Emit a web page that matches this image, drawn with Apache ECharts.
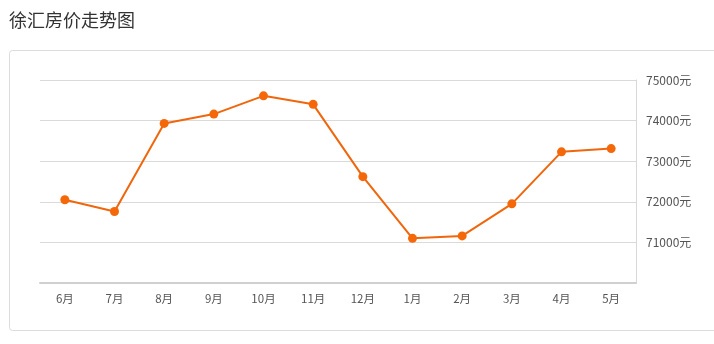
<!DOCTYPE html>
<html>
<head>
<meta charset="utf-8">
<script src="https://cdn.jsdelivr.net/npm/echarts@6/dist/echarts.min.js"></script>
<style>
html,body{margin:0;padding:0;background:#fff;}
#c{width:714px;height:344px;}
</style>
</head>
<body>
<div id="c"></div>
<script>
const categories = ['6月','7月','8月','9月','10月','11月','12月','1月','2月','3月','4月','5月'];
const prices = [72050, 71760, 73930, 74160, 74610, 74400, 72620, 71100, 71160, 71950, 73230, 73310];
const yTicks = [70000, 71000, 72000, 73000, 74000, 75000];

const font = '"Noto Sans CJK SC", "Microsoft YaHei", sans-serif';
const chart = echarts.init(document.getElementById('c'));
chart.setOption({
  backgroundColor: '#fff',
  animation: false,
  title: {
    text: '徐汇房价走势图',
    left: 4, top: 6,
    textStyle: {fontSize: 18, fontWeight: 'normal', color: '#333', fontFamily: font}
  },
  graphic: [{
    type: 'rect', z: -1,
    shape: {x: 9.5, y: 50.5, width: 720, height: 280, r: 3},
    style: {fill: '#fff', stroke: '#dcdcdc', lineWidth: 1}
  }],
  grid: {left: 40, right: 78, top: 80, bottom: 61},
  xAxis: {
    type: 'category',
    data: categories,
    boundaryGap: true,
    axisLine: {lineStyle: {color: '#d0d0d0', width: 2}},
    axisTick: {alignWithLabel: true, length: 4, lineStyle: {color: '#d0d0d0'}},
    axisLabel: {color: '#555', fontSize: 11.5, margin: 10, fontFamily: font}
  },
  yAxis: {
    type: 'value',
    position: 'right',
    min: yTicks[0], max: yTicks[yTicks.length - 1], interval: 1000,
    axisLine: {show: true, lineStyle: {color: '#d8d8d8'}},
    axisTick: {show: false},
    axisLabel: {
      color: '#555', fontSize: 12, margin: 10, fontFamily: font,
      showMinLabel: false,
      formatter: v => v + '元'
    },
    splitLine: {lineStyle: {color: '#dadada'}}
  },
  series: [{
    type: 'line',
    data: prices,
    symbol: 'circle',
    symbolSize: 9,
    lineStyle: {color: '#f0660c', width: 2},
    itemStyle: {color: '#f5680a'}
  }]
});
</script>
</body>
</html>
